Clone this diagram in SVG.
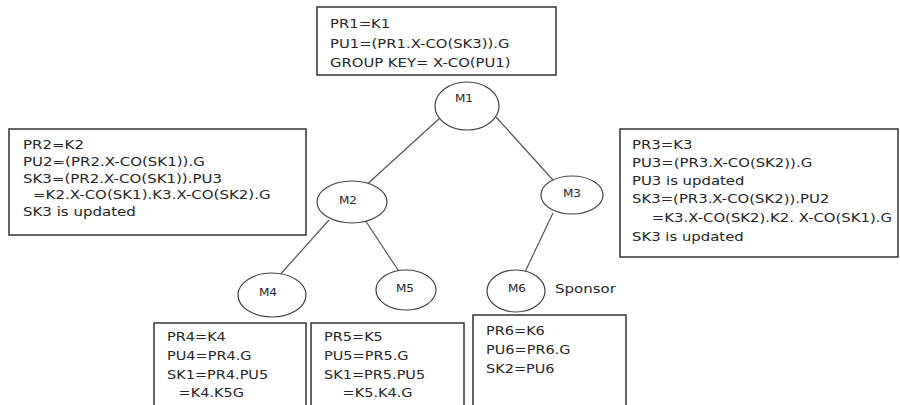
<svg xmlns="http://www.w3.org/2000/svg" width="900" height="405" viewBox="0 0 900 405">
  <style>
    .box { fill: #ffffff; stroke: #333333; stroke-width: 1.5; }
    .node { fill: #ffffff; stroke: #444444; stroke-width: 1.2; }
    .edge { stroke: #555555; stroke-width: 1.2; fill: none; }
    .t { font-family: "DejaVu Sans", Verdana, sans-serif; fill: #262626; }
    .t12 { font-size: 12px; }
    .t125 { font-size: 12.5px; }
    .t13 { font-size: 13px; }
    .lbl { font-family: "DejaVu Sans", Verdana, sans-serif; font-size: 11px; fill: #262626; text-anchor: middle; }
  </style>
  <rect width="900" height="405" fill="#ffffff"/>

  <!-- tree edges -->
  <g id="connectors">
    <line class="edge" x1="441" y1="117" x2="363" y2="188"/>
    <line class="edge" x1="496" y1="117" x2="553" y2="180"/>
    <line class="edge" x1="329" y1="220" x2="278" y2="277"/>
    <line class="edge" x1="363" y1="217" x2="400" y2="273"/>
    <line class="edge" x1="553" y1="213" x2="525" y2="272"/>
  </g>

  <!-- tree nodes -->
  <g id="M1">
    <ellipse class="node" cx="467" cy="106" rx="32" ry="24"/>
    <g transform="translate(464,102) scale(1.1,1)"><text class="lbl" x="0" y="0">M1</text></g>
  </g>
  <g id="M2">
    <ellipse class="node" cx="352" cy="202" rx="35" ry="21"/>
    <g transform="translate(348,204) scale(1.1,1)"><text class="lbl" x="0" y="0">M2</text></g>
  </g>
  <g id="M3">
    <ellipse class="node" cx="572" cy="195" rx="31" ry="19"/>
    <g transform="translate(572,197) scale(1.1,1)"><text class="lbl" x="0" y="0">M3</text></g>
  </g>
  <g id="M4">
    <ellipse class="node" cx="272" cy="295" rx="34" ry="22"/>
    <g transform="translate(268,296) scale(1.1,1)"><text class="lbl" x="0" y="0">M4</text></g>
  </g>
  <g id="M5">
    <ellipse class="node" cx="406" cy="290" rx="30" ry="20"/>
    <g transform="translate(405,292) scale(1.1,1)"><text class="lbl" x="0" y="0">M5</text></g>
  </g>
  <g id="M6">
    <ellipse class="node" cx="516" cy="291" rx="29" ry="21"/>
    <g transform="translate(517,292) scale(1.1,1)"><text class="lbl" x="0" y="0">M6</text></g>
    <g transform="translate(555,293) scale(1.25,1)"><text class="t t12" x="0" y="0">Sponsor</text></g>
  </g>

  <!-- info boxes -->
  <g id="box-M1">
    <rect class="box" x="317" y="7" width="239" height="68"/>
    <g transform="translate(330,0) scale(1.14,1)" class="t t13">
      <text x="0" y="28">PR1=K1</text>
      <text x="0" y="48">PU1=(PR1.X-CO(SK3)).G</text>
      <text x="0" y="67">GROUP KEY= X-CO(PU1)</text>
    </g>
  </g>

  <g id="box-M2">
    <rect class="box" x="9" y="129" width="297" height="106"/>
    <g transform="translate(23,0) scale(1.25,1)" class="t t12">
      <text x="0" y="149">PR2=K2</text>
      <text x="0" y="166">PU2=(PR2.X-CO(SK1)).G</text>
      <text x="0" y="183">SK3=(PR2.X-CO(SK1)).PU3</text>
      <text x="8" y="199">=K2.X-CO(SK1).K3.X-CO(SK2).G</text>
      <text x="0" y="216">SK3 is updated</text>
    </g>
  </g>

  <g id="box-M3">
    <rect class="box" x="620" y="129" width="278" height="128"/>
    <g transform="translate(632,0) scale(1.24,1)" class="t t12">
      <text x="0" y="149">PR3=K3</text>
      <text x="0" y="167">PU3=(PR3.X-CO(SK2)).G</text>
      <text x="0" y="185">PU3 is updated</text>
      <text x="0" y="203">SK3=(PR3.X-CO(SK2)).PU2</text>
      <text x="16" y="222">=K3.X-CO(SK2).K2. X-CO(SK1).G</text>
      <text x="0" y="241">SK3 is updated</text>
    </g>
  </g>

  <g id="box-M4">
    <rect class="box" x="154" y="323" width="152" height="90"/>
    <g transform="translate(167,0) scale(1.16,1)" class="t t125">
      <text x="0" y="341">PR4=K4</text>
      <text x="0" y="360">PU4=PR4.G</text>
      <text x="0" y="379">SK1=PR4.PU5</text>
      <text x="10" y="397">=K4.K5G</text>
    </g>
  </g>

  <g id="box-M5">
    <rect class="box" x="311" y="323" width="153" height="90"/>
    <g transform="translate(324,0) scale(1.16,1)" class="t t125">
      <text x="0" y="341">PR5=K5</text>
      <text x="0" y="360">PU5=PR5.G</text>
      <text x="0" y="379">SK1=PR5.PU5</text>
      <text x="16" y="397">=K5.K4.G</text>
    </g>
  </g>

  <g id="box-M6">
    <rect class="box" x="473" y="315" width="153" height="98"/>
    <g transform="translate(486,0) scale(1.16,1)" class="t t125">
      <text x="0" y="335">PR6=K6</text>
      <text x="0" y="354">PU6=PR6.G</text>
      <text x="0" y="373">SK2=PU6</text>
    </g>
  </g>
</svg>
